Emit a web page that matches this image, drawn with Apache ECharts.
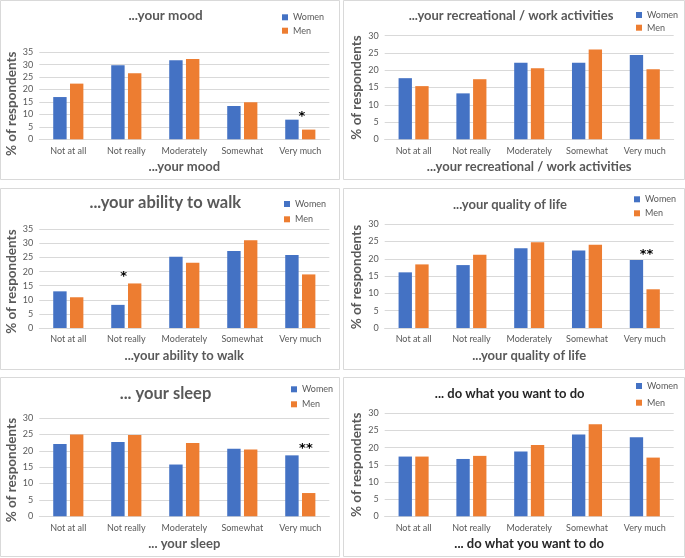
<!DOCTYPE html>
<html>
<head>
<meta charset="utf-8">
<script src="https://cdn.jsdelivr.net/npm/echarts@6/dist/echarts.min.js"></script>
<style>
html,body{margin:0;padding:0;background:#fff;}
#c{width:685px;height:558px;}
</style>
</head>
<body>
<div id="c"></div>
<script>
// ---- data ----
const categories = ['Not at all', 'Not really', 'Moderately', 'Somewhat', 'Very much'];
const seriesNames = ['Women', 'Men'];
const yAxisTitle = '% of respondents';

const moodWomen = [17.0, 29.8, 31.8, 13.4, 7.9];
const moodMen   = [22.4, 26.6, 32.3, 14.9, 3.9];
const moodSig   = ['', '', '', '', '*'];

const recWomen = [17.7, 13.3, 22.2, 22.2, 24.4];
const recMen   = [15.4, 17.4, 20.6, 26.0, 20.3];
const recSig   = ['', '', '', '', ''];

const walkWomen = [13.0, 8.2, 25.3, 27.3, 25.9];
const walkMen   = [10.9, 15.8, 23.1, 31.1, 19.0];
const walkSig   = ['', '*', '', '', ''];

const qolWomen = [16.1, 18.2, 23.1, 22.4, 19.7];
const qolMen   = [18.4, 21.2, 24.8, 24.1, 11.2];
const qolSig   = ['', '', '', '', '**'];

const sleepWomen = [22.1, 22.7, 15.8, 20.6, 18.6];
const sleepMen   = [25.0, 24.8, 22.4, 20.4, 7.1];
const sleepSig   = ['', '', '', '', '**'];

const doWomen = [17.4, 16.7, 18.9, 23.8, 23.0];
const doMen   = [17.4, 17.6, 20.8, 26.8, 17.1];
const doSig   = ['', '', '', '', ''];

const titles = ['...your mood', '...your recreational / work activities', '...your ability to walk',
                '...your quality of life', '... your sleep', '... do what you want to do'];
const yMaxes = [35, 30, 35, 30, 30, 30];
const yStep = 5;

const panelData = [
  [moodWomen, moodMen, moodSig],
  [recWomen, recMen, recSig],
  [walkWomen, walkMen, walkSig],
  [qolWomen, qolMen, qolSig],
  [sleepWomen, sleepMen, sleepSig],
  [doWomen, doMen, doSig]
];

// ---- layout / style ----
const layout = [
  {box:[0.5,0.5,339,179],   grid:[39.3,52.3,290,87],    title:[165.5,16,13.5], tcol:'#595959', leg:[282,12.8,13.4], yPad:16, xGap:21, star:[10,3]},
  {box:[343.5,0.5,341,179], grid:[384.7,35.7,289,103.6], title:[511,16,13],    tcol:'#595959', leg:[636,10.5,12.7], yPad:0, xGap:21, star:[10,0]},
  {box:[0.5,188.5,339,181], grid:[39.3,229.3,290,98.7],  title:[165.3,202.7,16.5], tcol:'#595959', leg:[284,199.5,15.3], yPad:6, xGap:21, star:[-11,0]},
  {box:[343.5,188.5,341,181], grid:[384.7,224.3,289,103.7], title:[510,205.3,13], tcol:'#595959', leg:[634,194.8,14], yPad:2, xGap:21, star:[10,1]},
  {box:[0.5,377.5,339,179], grid:[39.3,418,290,98.3],    title:[165.5,393.3,16.5], tcol:'#595959', leg:[291,384.8,15], yPad:6, xGap:21.5, star:[14,0]},
  {box:[343.5,377.5,341,179], grid:[384.7,413.3,289,103], title:[509.7,394,13], tcol:'#262626', leg:[636,381.5,16.7], yPad:0, xGap:21.5, star:[10,0]}
];

const FONT = 'Lato, "Open Sans", sans-serif';
const GRAY = '#595959';
const COLORS = ['#4472C4', '#ED7D31'];

const option = {
  animation: false,
  backgroundColor: '#ffffff',
  grid: [], xAxis: [], yAxis: [], series: [], legend: [], graphic: []
};

layout.forEach((L, i) => {
  const [women, men, sig] = panelData[i];
  option.graphic.push({
    type: 'rect', shape: {x: L.box[0], y: L.box[1], width: L.box[2], height: L.box[3]},
    style: {fill: 'none', stroke: '#d9d9d9', lineWidth: 1}, silent: true, z: -10
  });
  option.graphic.push({
    type: 'text', x: L.title[0], y: L.title[1],
    style: {text: titles[i], font: 'bold ' + L.title[2] + 'px ' + FONT, fill: L.tcol,
            textAlign: 'center', textVerticalAlign: 'middle'}
  });
  option.grid.push({left: L.grid[0], top: L.grid[1], width: L.grid[2], height: L.grid[3],
                    containLabel: false, outerBoundsMode: 'none'});
  option.xAxis.push({
    type: 'category', gridIndex: i, data: categories,
    axisLine: {lineStyle: {color: '#d9d9d9', width: 1}}, axisTick: {show: false},
    axisLabel: {color: GRAY, fontSize: 9, fontFamily: FONT, margin: 7, interval: 0},
    name: titles[i], nameLocation: 'middle', nameGap: L.xGap,
    nameTextStyle: {color: L.tcol, fontSize: 13, fontWeight: 'bold', fontFamily: FONT}
  });
  option.yAxis.push({
    type: 'value', gridIndex: i, min: 0, max: yMaxes[i], interval: yStep,
    axisLine: {show: false}, axisTick: {show: false},
    splitLine: {lineStyle: {color: '#d9d9d9', width: 1}},
    axisLabel: {color: GRAY, fontSize: 9, fontFamily: FONT, margin: 6},
    name: yAxisTitle, nameLocation: 'middle', nameRotate: 90, nameGap: 21,
    nameTextStyle: {color: GRAY, fontSize: 13.5, fontWeight: 'bold', fontFamily: FONT,
                    padding: [0, L.yPad, 0, 0]}
  });
  const mk = (vals, other, isWomen) => vals.map((v, k) => {
    const s = sig[k];
    const taller = isWomen ? v >= other[k] : v > other[k];
    if (s && taller) {
      return {value: v, label: {show: true, formatter: s, position: 'top', distance: 0,
              offset: [L.star[0], L.star[1]], color: '#000', fontSize: 13, fontWeight: 'bold',
              fontFamily: 'DejaVu Sans'}};
    }
    return v;
  });
  option.series.push({
    name: seriesNames[0], type: 'bar', xAxisIndex: i, yAxisIndex: i,
    data: mk(women, men, true), itemStyle: {color: COLORS[0]},
    barGap: '25%', barCategoryGap: '48%'
  });
  option.series.push({
    name: seriesNames[1], type: 'bar', xAxisIndex: i, yAxisIndex: i,
    data: mk(men, women, false), itemStyle: {color: COLORS[1]},
    barGap: '25%', barCategoryGap: '48%'
  });
  option.legend.push({
    data: seriesNames, orient: 'vertical', left: L.leg[0], top: L.leg[1],
    itemWidth: 6, itemHeight: 6, itemGap: L.leg[2] - 9, icon: 'rect',
    textStyle: {color: GRAY, fontSize: 9, fontFamily: FONT, lineHeight: 9},
    selectedMode: false, padding: 0
  });
});

const chart = echarts.init(document.getElementById('c'), null, {renderer: 'canvas'});
chart.setOption(option);
</script>
</body>
</html>
